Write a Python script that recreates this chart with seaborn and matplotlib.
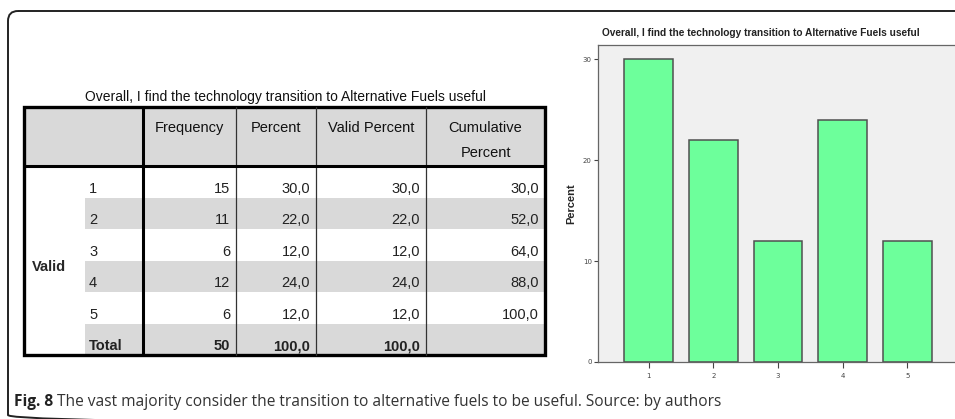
import matplotlib
matplotlib.use("Agg")
import matplotlib.pyplot as plt
from matplotlib.patches import FancyBboxPatch, Rectangle
import seaborn as sns

categories = ["1", "2", "3", "4", "5"]
frequency = [15, 11, 6, 12, 6]
percent = [30.0, 22.0, 12.0, 24.0, 12.0]
valid_percent = [30.0, 22.0, 12.0, 24.0, 12.0]
cumulative = [30.0, 52.0, 64.0, 88.0, 100.0]
total_frequency = 50
total_percent = 100.0
total_valid = 100.0
headers = ["Frequency", "Percent", "Valid Percent", "Cumulative\nPercent"]
title = "Overall, I find the technology transition to Alternative Fuels useful"
caption_bold = "Fig. 8"
caption_text = " The vast majority consider the transition to alternative fuels to be useful. Source: by authors"

sns.set_style("white")
narrow = ["Liberation Sans Narrow", "Liberation Sans", "DejaVu Sans"]


def comma(v):
    return f"{v:.1f}".replace(".", ",")


fig = plt.figure(figsize=(9.55, 4.19), dpi=100)
fig.patch.set_facecolor("white")

# overlay in pixel coordinates for the frame, table and caption
ov = fig.add_axes([0, 0, 1, 1])
ov.set_xlim(0, 955)
ov.set_ylim(419, 0)
ov.axis("off")

ov.add_patch(FancyBboxPatch((8, 11), 1000, 414, boxstyle="round,pad=0,rounding_size=10",
                            fc="none", ec="#222222", lw=1.4))

# ---- table ----
cols = [24, 143, 236, 316, 426, 545]
top, head_bot, bottom = 107, 166, 355
row_h = (bottom - head_bot) / 6
band = "#d9d9d9"
fs = 10.5

ov.add_patch(Rectangle((cols[0], top), cols[-1] - cols[0], head_bot - top, fc=band, ec="none"))
for r in [1, 3, 5]:
    y0 = head_bot + r * row_h
    ov.add_patch(Rectangle((85, y0), cols[-1] - 85, row_h, fc=band, ec="none"))

for x in cols[2:-1]:
    ov.plot([x, x], [top, bottom], color="#333333", lw=0.9)
ov.plot([cols[1], cols[1]], [top, bottom], color="black", lw=2.2)
ov.plot([cols[0], cols[-1]], [head_bot, head_bot], color="black", lw=2.2)
ov.add_patch(Rectangle((cols[0], top), cols[-1] - cols[0], bottom - top, fc="none", ec="black", lw=2.4))

ov.text(285, 97, title, ha="center", va="center", fontsize=10, family=narrow, color="#111111")

for i, h in enumerate(headers):
    cx = (cols[i + 1] + cols[i + 2]) / 2
    ov.text(cx, 121, h, ha="center", va="top", fontsize=fs, family=narrow, linespacing=2.0,
            color="#111111")

ov.text(32, 267, "Valid", ha="left", va="center", fontsize=fs, family=narrow, weight="bold")

rows = []
for i in range(len(categories)):
    rows.append([categories[i], str(frequency[i]), comma(percent[i]), comma(valid_percent[i]), comma(cumulative[i])])
rows.append(["Total", str(total_frequency), comma(total_percent), comma(total_valid), ""])

for r, vals in enumerate(rows):
    yb = head_bot + (r + 1) * row_h - 5
    w = "bold" if r == len(rows) - 1 else "normal"
    ov.text(89, yb, vals[0], ha="left", va="baseline", fontsize=fs, family=narrow, weight=w,
            color="#222222")
    for c in range(4):
        ov.text(cols[c + 2] - 6, yb, vals[c + 1], ha="right", va="baseline", fontsize=fs,
                family=narrow, weight=w, color="#222222")

# ---- caption ----
t = ov.text(14, 406, caption_bold, ha="left", va="baseline", fontsize=11.2,
            family=["Open Sans", "DejaVu Sans"], weight="bold", color="#222222")
fig.canvas.draw()
bb = t.get_window_extent()
ov.text(14 + bb.width, 406, caption_text, ha="left", va="baseline", fontsize=11.2,
        family=["Open Sans", "DejaVu Sans"], color="#333333")

# ---- bar chart ----
left_px, right_px, top_px, bot_px = 598, 958, 45, 362
ax = fig.add_axes([left_px / 955, 1 - bot_px / 419, (right_px - left_px) / 955, (bot_px - top_px) / 419])
ax.set_facecolor("#f0f0f0")
sns.barplot(x=categories, y=percent, color="#6dff9b", edgecolor="#505050", linewidth=1.1,
            width=0.75, saturation=1, ax=ax)
ax.set_xlim(-0.78, 4.78)
ax.set_ylim(0, 31.4)
ax.set_yticks([0, 10, 20, 30])
ax.set_yticklabels(["0", "10", "20", "30"])
ax.tick_params(axis="both", length=3, width=0.8, color="#444444", labelsize=5,
               labelcolor="#444444", pad=1.5, left=True, bottom=True)
ax.tick_params(axis="x", length=4, pad=4)
for s in ax.spines.values():
    s.set_color("#666666")
    s.set_linewidth(0.9)
ax.set_xlabel("")
ax.set_ylabel("Percent", fontsize=8, weight="bold", family=["Liberation Sans", "DejaVu Sans"], labelpad=5)
ov.text(761, 33, title, ha="center", va="center", fontsize=7.3, family=narrow, weight="bold", color="#222222")

fig.savefig("out.png", dpi=100, facecolor="white")
